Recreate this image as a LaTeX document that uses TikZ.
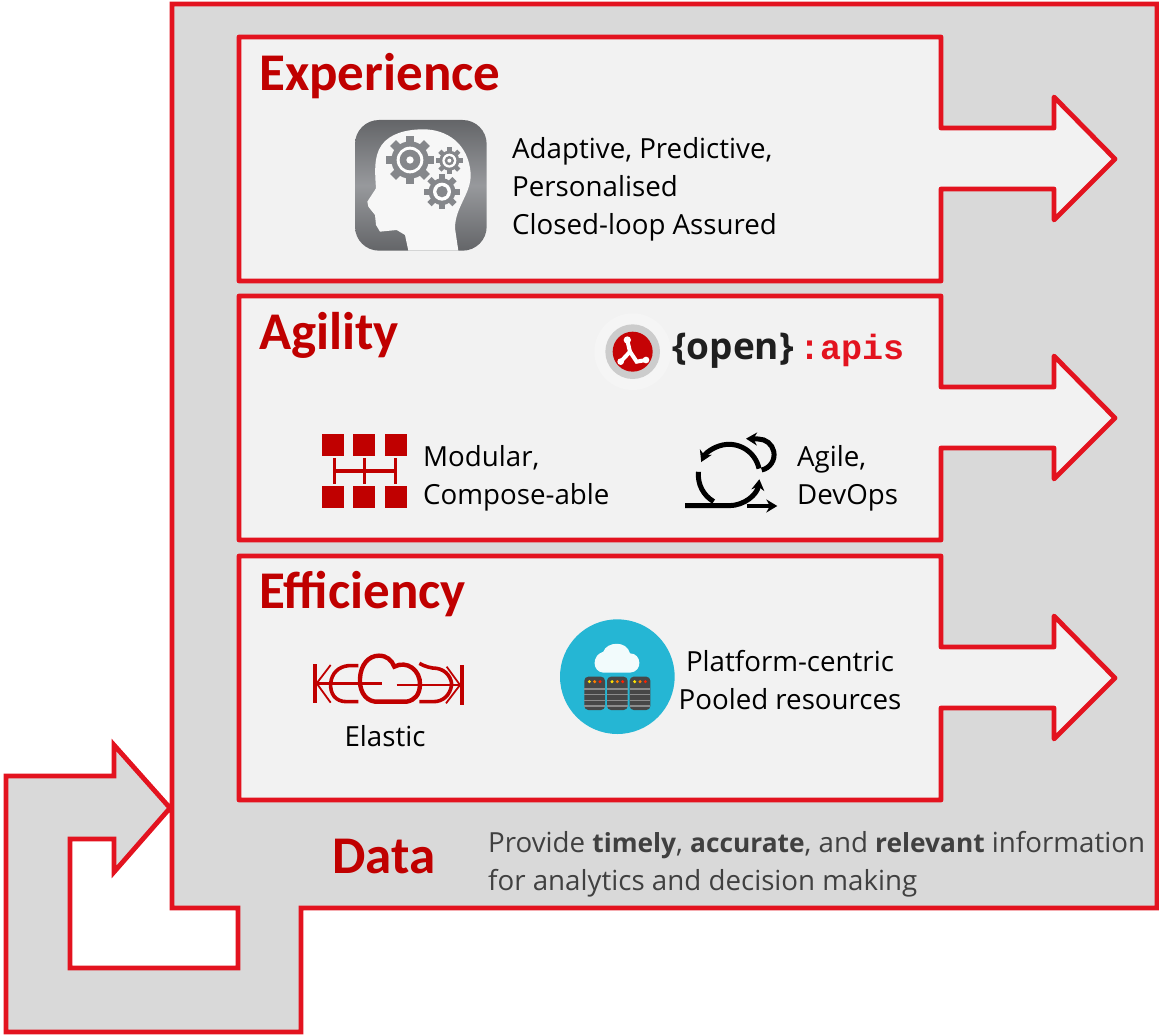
\documentclass[tikz,border=0pt]{standalone}
\usepackage{fontspec}
\setmainfont{Open Sans}
\newfontfamily\titlefont{Carlito}
\newfontfamily\monofont{Liberation Mono}
\usetikzlibrary{calc,arrows.meta}
\definecolor{rline}{HTML}{E3131F}
\definecolor{rtitle}{HTML}{C00000}
\definecolor{panel}{HTML}{F2F2F2}
\definecolor{outer}{HTML}{D9D9D9}
\definecolor{dtext}{HTML}{404040}
\definecolor{cloudblue}{HTML}{25B6D4}
\definecolor{icongray}{HTML}{85878B}
\tikzset{
  outline/.style={draw=rline,line width=4.8pt,line join=miter,miter limit=8},
  panelline/.style={draw=rline,line width=4.8pt,line join=round,fill=panel},
  title/.style={anchor=west,inner sep=0pt,text=rtitle,font=\titlefont\bfseries\fontsize{53}{53}\selectfont},
  body/.style={anchor=west,inner sep=0pt,align=left,font=\fontsize{27.7}{38}\selectfont},
  ctr/.style={anchor=center,inner sep=0pt,align=center,font=\fontsize{27.7}{38}\selectfont},
  agileline/.style={black,line width=5pt,line cap=butt},
  agiletip/.style={-{Stealth[length=11pt,width=13pt]}},
}
\newcommand{\strongword}[1]{{\bfseries\fontsize{26.3}{38}\selectfont #1}}
\newcommand{\gearshape}[5]{% x,y,R,body,teeth
  \fill[icongray] (#1,#2) circle (#4);
  \foreach \a in {1,...,#5}{
    \fill[icongray,rotate around={\a*360/#5:(#1,#2)}]
      ($(#1,#2)+(-#3*0.17,-#4*0.9)$) rectangle ($(#1,#2)+(#3*0.17,-#3)$);
  }
}
\newcommand{\panelarrow}[1]{% top y
  \draw[panelline] (239,#1) -- (941,#1) -- (941,#1+91) -- (1054,#1+91) -- (1054,#1+60) -- (1115,#1+122)
    -- (1054,#1+183) -- (1054,#1+152) -- (941,#1+152) -- (941,#1+244) -- (239,#1+244) -- cycle;
}
\begin{document}
\begin{tikzpicture}[x=1pt,y=-1pt]
\useasboundingbox (0,0) rectangle (1159,1035);
% outer shape
\draw[outline,fill=outer] (172,4) -- (1157,4) -- (1157,908) -- (301,908) -- (301,1032) -- (6,1032) -- (6,776)
  -- (114,776) -- (114,745) -- (170,808) -- (114,872) -- (114,839) -- (70,839) -- (70,968) -- (238,968) -- (238,908) -- (172,908) -- cycle;
\panelarrow{37}
\panelarrow{296}
\panelarrow{556}
% titles
\node[title] (texp) at (259,76) {Experience};
\node[title] (tagi) at (259,335) {Agility};
\node[title] (teff) at (259,594) {Efficiency};
\node[title] (tdata) at (332,857) {Data};
% head icon
\begin{scope}[shift={(340,100)},scale=1/3]
  \shade[top color=icongray!75!black,bottom color=icongray!75!black,middle color=icongray!85!white,rounded corners=24pt] (45,60) rectangle (440,452);
  \fill[white!97!black] (205,452) -- (195,405) -- (170,390) -- (120,395) -- (108,375) -- (105,345) -- (85,320) -- (82,305)
    -- (108,265) .. controls (105,220) and (100,170) .. (125,135) .. controls (150,100) and (200,88) .. (250,88)
    .. controls (320,88) and (385,130) .. (392,220) .. controls (395,280) and (345,320) .. (345,385) -- (355,452) -- cycle;
  \gearshape{210}{180}{72}{56}{8}
  \fill[white] (210,180) circle (40);
  \fill[icongray] (210,180) circle (31);
  \fill[white] (210,180) circle (11);
  \gearshape{306}{275}{53}{40}{8}
  \fill[white] (306,275) circle (27);
  \fill[icongray] (306,275) circle (17);
  \gearshape{328}{182}{40}{30}{8}
  \fill[white] (328,182) circle (21);
  \fill[icongray] (328,182) circle (14);
  \fill[white] (328,182) circle (6);
\end{scope}
\node[body] (lexp) at (512,189) {Adaptive, Predictive,\\Personalised\\Closed-loop Assured};
% openapi logo
\begin{scope}[shift={(590,310)},scale=1/3]
  \fill[white!25!panel] (128,125) circle (115);
  \fill[black!20] (128,125) circle (82);
  \fill[rtitle!85!rline] (128,125) circle (60);
  \draw[white,line width=4pt,line cap=round] (112,92) -- (120,125) -- (92,155);
  \draw[white,line width=4pt,line cap=round] (120,125) -- (140,155) -- (168,150);
  \fill[white] (112,90) circle (11) (92,155) circle (10) (168,150) circle (10);
\end{scope}
\node[anchor=west,inner sep=0pt,text=black!88,font=\bfseries\fontsize{37}{37}\selectfont] (topen) at (672,351) {\{open\}};
\node[anchor=west,inner sep=0pt,text=rline,font=\monofont\bfseries\fontsize{35}{35}\selectfont] (tapis) at (799,350) {:apis};
% modular icon
\begin{scope}[shift={(310,420)},scale=1/3]
  \foreach \x in {36,130,224}{
    \fill[rtitle] (\x,42) rectangle ++(66,66);
    \fill[rtitle] (\x,198) rectangle ++(66,66);
  }
  \foreach \x in {73,164,257}{\fill[rtitle] (\x-5,115) rectangle (\x+5,191);}
  \fill[rtitle] (73,148) rectangle (257,159);
\end{scope}
\node[body] (lmod) at (423,478) {Modular,\\Compose-able};
% agile icon
\begin{scope}[shift={(670,420)},scale=1/3]
  \coordinate (c) at (177,165);
  \draw[agileline,agiletip] (45,257) -- (177,257) arc[start angle=90,end angle=8,radius=92];
  \draw[agileline,line width=4pt,agiletip] (230,258) -- (322,258);
  \draw[agileline,agiletip] ($(c)+(-12:92)$) arc[start angle=-12,end angle=-155,radius=92];
  \draw[agileline] ($(c)+(186:92)$) arc[start angle=186,end angle=120,radius=92];
  \draw[agileline,agiletip] (275,150) arc[start angle=78,end angle=-90,radius=47] -- (228,56);
\end{scope}
\node[body] (lagile) at (797,478) {Agile,\\DevOps};
% elastic icon
\begin{scope}[shift={(300,650)},scale=1/3,line cap=butt]
  \draw[rtitle,line width=3.8pt] (44,42) -- (44,160);
  \draw[rtitle,line width=2.6pt] (44,100) -- (245,100);
  \draw[rtitle,line width=1.8pt] (50,100) -- (92,45) (50,100) -- (92,158);
  \draw[rtitle,line width=3.6pt] (175,155) -- (140,155) .. controls (105,155) and (90,130) .. (92,100) .. controls (95,70) and (115,50) .. (145,47) -- (175,47);
  \draw[rtitle,line width=4.4pt] (270,155) -- (225,155) .. controls (190,150) and (178,115) .. (180,85) .. controls (182,45) and (205,17) .. (237,17) .. controls (260,17) and (275,30) .. (283,50)
    .. controls (320,30) and (362,60) .. (360,105) .. controls (358,135) and (345,150) .. (320,155) -- (270,155);
  \draw[rtitle,line width=3.8pt] (487,45) -- (487,165);
  \draw[rtitle,line width=2.6pt] (290,105) -- (487,105);
  \draw[rtitle,line width=1.8pt] (480,105) -- (440,50) (480,105) -- (438,160);
  \draw[rtitle,line width=3.6pt] (358,40) .. controls (375,50) and (395,55) .. (410,55) .. controls (440,60) and (455,85) .. (455,105) .. controls (450,135) and (430,155) .. (400,155) -- (358,155);
\end{scope}
\node[ctr] (lel) at (385,736) {Elastic};
% cloud icon
\begin{scope}[shift={(550,610)},scale=1/3]
  \fill[cloudblue] (202,200) circle (172);
  \fill[white!94!cloudblue] (160,188) .. controls (125,185) and (125,135) .. (160,125) .. controls (170,95) and (230,90) .. (240,130)
    .. controls (275,130) and (280,185) .. (240,188) -- cycle;
  \foreach \x in {103,171,239}{
    \fill[black!72,rounded corners=4pt] (\x,200) rectangle ++(62,100);
    \foreach \y in {235,252,269,286}{\fill[black!45] (\x,\y) rectangle ++(62,4);}
    \fill[yellow!85!orange] (\x+15,215) circle (5);
    \fill[orange] (\x+31,215) circle (5);
    \fill[red!75!orange] (\x+47,215) circle (5);
  }
\end{scope}
\node[ctr] (lplat) at (790,680) {Platform-centric\\Pooled resources};
% data text
\node[body,text=dtext] (ldata) at (488,864) {Provide \strongword{timely}, \strongword{accurate}, and \strongword{relevant} information\\for analytics and decision making};
\end{tikzpicture}
\end{document}
